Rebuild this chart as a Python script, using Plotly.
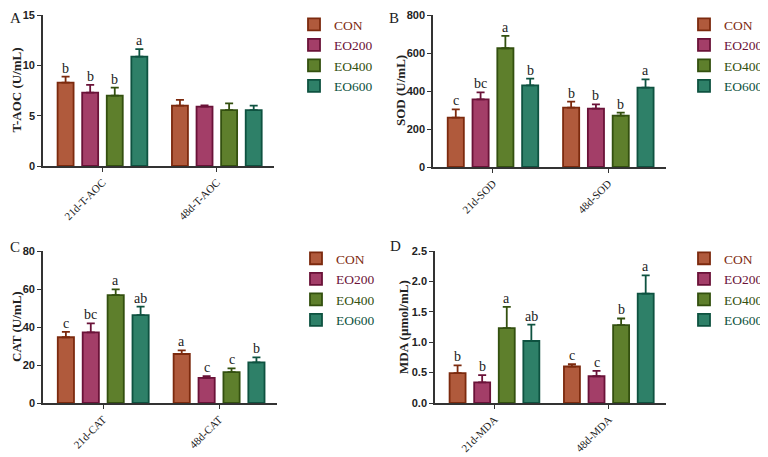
import plotly.graph_objects as go

groups = ["CON", "EO200", "EO400", "EO600"]
fills = ["#b05a3c", "#a33e68", "#5e7f2c", "#2e8068"]
edges = ["#7c2a0e", "#6a1238", "#33500f", "#0e5240"]

# Panel A: T-AOC
taoc_cats = ["21d-T-AOC", "48d-T-AOC"]
taoc_vals = [[8.28, 5.99], [7.28, 5.89], [6.99, 5.56], [10.86, 5.56]]
taoc_errs = [[0.6, 0.57], [0.77, 0.13], [0.8, 0.66], [0.76, 0.43]]
taoc_lets = [["b", ""], ["b", ""], ["b", ""], ["a", ""]]

# Panel B: SOD
sod_cats = ["21d-SOD", "48d-SOD"]
sod_vals = [[260, 312], [356, 307], [625, 270], [430, 418]]
sod_errs = [[43, 32], [37, 23], [65, 16], [35, 43]]
sod_lets = [["c", "b"], ["bc", "b"], ["a", "b"], ["b", "a"]]

# Panel C: CAT
cat_cats = ["21d-CAT", "48d-CAT"]
cat_vals = [[34.6, 25.8], [37.2, 13.2], [56.8, 16.3], [46.3, 21.4]]
cat_errs = [[2.8, 1.9], [4.7, 0.9], [3.0, 1.9], [4.4, 2.6]]
cat_lets = [["c", "a"], ["bc", "c"], ["a", "c"], ["ab", "b"]]

# Panel D: MDA
mda_cats = ["21d-MDA", "48d-MDA"]
mda_vals = [[0.49, 0.60], [0.34, 0.44], [1.23, 1.28], [1.02, 1.80]]
mda_errs = [[0.13, 0.04], [0.12, 0.09], [0.35, 0.11], [0.27, 0.30]]
mda_lets = [["b", "c"], ["b", "c"], ["a", "b"], ["ab", "a"]]

panels = [
    dict(cats=taoc_cats, vals=taoc_vals, errs=taoc_errs, lets=taoc_lets,
         title="T-AOC (U/mL)", yr=[0, 15], dtick=5, fmt="", label="A"),
    dict(cats=sod_cats, vals=sod_vals, errs=sod_errs, lets=sod_lets,
         title="SOD (U/mL)", yr=[0, 800], dtick=200, fmt="", label="B"),
    dict(cats=cat_cats, vals=cat_vals, errs=cat_errs, lets=cat_lets,
         title="CAT (U/mL)", yr=[0, 80], dtick=20, fmt="", label="C"),
    dict(cats=mda_cats, vals=mda_vals, errs=mda_errs, lets=mda_lets,
         title="MDA (µmol/mL)", yr=[0, 2.5], dtick=0.5, fmt=".1f", label="D"),
]

# the page body has an 8px margin: draw on a 760x449 canvas offset by 8px
OFF = 8
W, H = 768 - OFF, 457 - OFF
# pixel boxes (window coordinates) for each panel: (x0, x1, y_top, y_bottom)
boxes = [(43, 274, 15, 166), (433, 666, 15, 167), (43, 277, 251, 403), (435, 666, 251, 403)]
legend_pos = [(294, 9), (684, 9), (296, 243), (684, 243)]
# label positions: (x left, y top) in window coordinates
label_pos = [(8, 8), (387, 8), (8, 237), (388, 236)]
title_x = [16, 400, 16, 403]


def px(v):
    return (v - OFF) / W


def py(v):
    return 1 - (v - OFF) / H


bargap = 0.14
bargroupgap = 0.35
slot = (1 - bargap) / 4
xr = [-0.52, 1.5]

serif = "Liberation Serif, Times New Roman, serif"
sans = "Liberation Sans, Arial, sans-serif"

fig = go.Figure()
annotations = []
layout = {}

for p, pan in enumerate(panels):
    sfx = "" if p == 0 else str(p + 1)
    xa, ya = "x" + sfx, "y" + sfx
    leg = "legend" if p == 0 else "legend" + str(p + 1)
    for g in range(4):
        fig.add_trace(go.Bar(
            x=pan["cats"], y=pan["vals"][g],
            name="<span style='color:%s'>%s</span>" % (edges[g], groups[g]),
            marker=dict(color=fills[g], line=dict(color=edges[g], width=1.8)),
            error_y=dict(type="data", array=pan["errs"][g], arrayminus=[0] * len(pan["errs"][g]),
                         symmetric=False, color=edges[g], thickness=1.8, width=4),
            xaxis=xa, yaxis=ya, legend=leg,
        ))
        for i, lt in enumerate(pan["lets"][g]):
            if lt:
                annotations.append(dict(
                    x=i + (g - 1.5) * slot, y=pan["vals"][g][i] + pan["errs"][g][i],
                    xref=xa, yref=ya, text=lt, showarrow=False, yanchor="bottom",
                    yshift=-1, font=dict(family=serif, size=14, color="#222")))
    x0, x1, yt, yb = boxes[p]
    layout["xaxis" + sfx] = dict(
        domain=[px(x0), px(x1)], anchor=ya, type="category", range=xr, automargin=False,
        showline=True, linecolor="#333", linewidth=1.6, ticks="outside", ticklen=4,
        tickcolor="#333", tickwidth=1.4, tickangle=-45,
        tickfont=dict(family=serif, size=11, color="#222"), showgrid=False, zeroline=False)
    layout["yaxis" + sfx] = dict(
        domain=[py(yb), py(yt)], anchor=xa, range=pan["yr"], dtick=pan["dtick"],
        tickformat=pan["fmt"], showline=True, linecolor="#333", linewidth=1.6, automargin=False,
        ticks="outside", ticklen=4, tickcolor="#333", tickwidth=1.4,
        tickfont=dict(family=sans, size=11, color="#222", weight="bold"),
        showgrid=False, zeroline=False)
    annotations.append(dict(
        x=px(title_x[p]), y=py((yt + yb) / 2), xref="paper", yref="paper",
        text=pan["title"], textangle=-90, showarrow=False, xanchor="center", yanchor="middle",
        font=dict(family=serif, size=13, color="#222", weight="bold")))
    lx, ly = legend_pos[p]
    layout[leg] = dict(x=px(lx), y=py(ly), xanchor="left", yanchor="top",
                       font=dict(family=serif, size=13.5), bgcolor="rgba(0,0,0,0)",
                       tracegroupgap=0, itemwidth=30)
    tx, ty = label_pos[p]
    annotations.append(dict(x=px(tx), y=py(ty), xref="paper", yref="paper", text=pan["label"],
                            showarrow=False, xanchor="left", yanchor="top",
                            font=dict(family=serif, size=15, color="#222")))

fig.update_layout(
    width=W, height=H, margin=dict(l=0, r=0, t=0, b=0, autoexpand=False),
    paper_bgcolor="white", plot_bgcolor="white",
    barmode="group", bargap=bargap, bargroupgap=bargroupgap,
    annotations=annotations, showlegend=True, **layout)

fig.write_html("out.html")
